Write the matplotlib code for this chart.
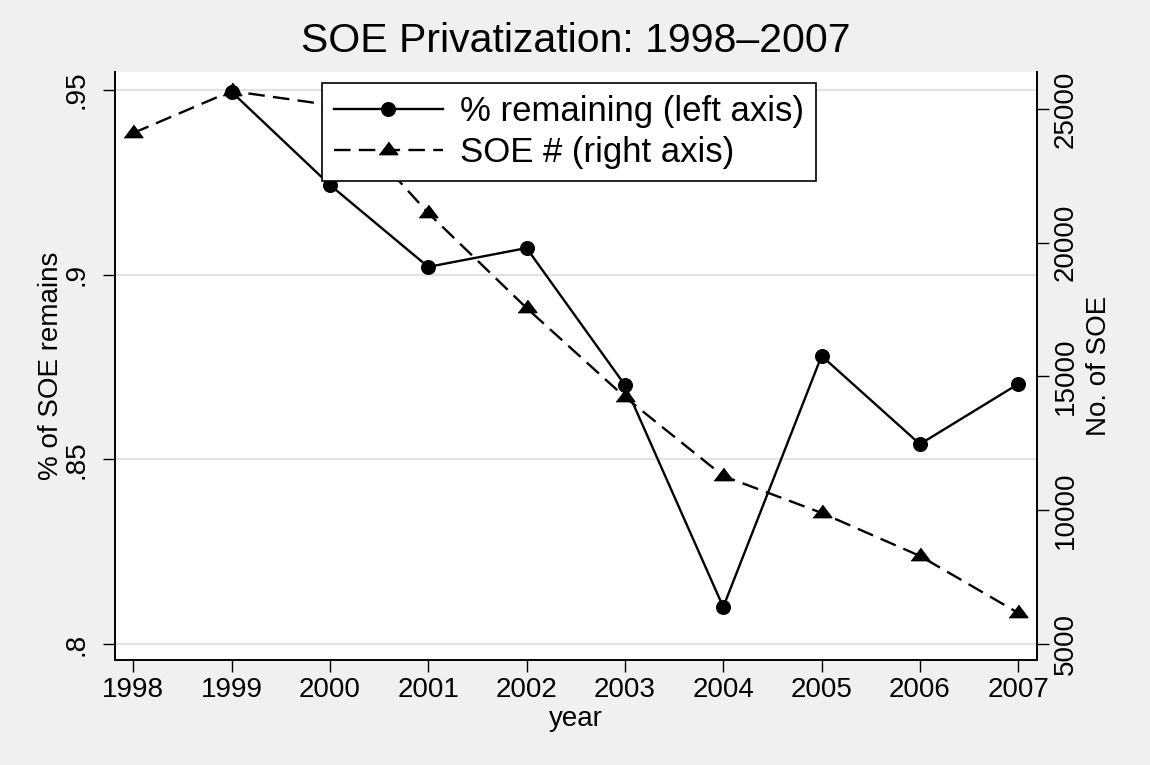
import matplotlib
matplotlib.use('Agg')
import matplotlib.pyplot as plt

# datos
years = [1998, 1999, 2000, 2001, 2002, 2003, 2004, 2005, 2006, 2007]
pct_remaining = [None, 0.9495, 0.9243, 0.9021, 0.9072, 0.8701, 0.8100, 0.8780, 0.8541, 0.8704]
soe_count = [24100, 25670, 25150, 21110, 17560, 14230, 11280, 9900, 8290, 6160]

left_ticks = [0.80, 0.85, 0.90, 0.95]
left_labels = ['.8', '.85', '.9', '.95']
right_ticks = [5000, 10000, 15000, 20000, 25000]

plt.rcParams['font.family'] = ['Liberation Sans', 'DejaVu Sans']

fig = plt.figure(figsize=(11.5, 7.65), dpi=100)
fig.patch.set_facecolor('#f0f0f0')

ax = fig.add_axes([0.1, 0.1373, 0.8017, 0.7686])
ax.set_facecolor('white')
ax2 = ax.twinx()

# serie con circulos (eje izquierdo)
yrs_pct = [y for y, v in zip(years, pct_remaining) if v is not None]
vals_pct = [v for v in pct_remaining if v is not None]
l1, = ax.plot(yrs_pct, vals_pct, color='black', lw=1.7, marker='o', ms=9.8,
              label='% remaining (left axis)')

# serie con triangulos (eje derecho)
tri = [(-1, -0.444), (1, -0.444), (0, 0.889)]
l2, = ax2.plot(years, soe_count, color='black', lw=1.7, ls=(0, (7, 3.5)),
               marker=tri, ms=13.5, label='SOE # (right axis)')

ax.set_xlim(1997.815, 2007.19)
ax.set_ylim(0.79567, 0.95487)
ax2.set_ylim(4402, 26383)

ax.set_xticks(years)
ax.set_yticks(left_ticks)
ax.set_yticklabels(left_labels)
ax2.set_yticks(right_ticks)

ax.yaxis.grid(True, color='#e2e2e2', lw=1.6)
ax.set_axisbelow(True)

for s in ['top', 'right']:
    ax.spines[s].set_visible(False)
for s in ['top', 'left', 'bottom']:
    ax2.spines[s].set_visible(False)
for sp in [ax.spines['left'], ax.spines['bottom'], ax2.spines['right']]:
    sp.set_linewidth(1.4)

ax.tick_params(axis='x', direction='out', length=8.5, width=1, labelsize=20, pad=4)
ax.tick_params(axis='y', direction='out', length=8.5, width=1, labelsize=20,
               labelrotation=90, pad=9.5)
ax2.tick_params(axis='y', direction='out', length=8.5, width=1, labelsize=20,
                labelrotation=90, pad=3)
for t in ax.get_yticklabels() + ax2.get_yticklabels():
    t.set_va('center')

ax.set_xlabel('year', fontsize=20, labelpad=2)
ax.set_ylabel('% of SOE remains', fontsize=20, labelpad=0)
ax2.set_ylabel('No. of SOE', fontsize=20, labelpad=5)

fig.text(0.501, 1 - 41 / 765, 'SOE Privatization: 1998\u20132007',
         fontsize=29.5, ha='center', va='center')

leg = ax2.legend(handles=[l1, l2], loc='upper left', bbox_to_anchor=(0.2245, 0.981),
                 borderaxespad=0, fontsize=25, frameon=True, fancybox=False,
                 edgecolor='black', framealpha=1, numpoints=1, handlelength=3.14,
                 handletextpad=0.49, borderpad=0.34, labelspacing=0.24)
leg.get_frame().set_linewidth(1.2)

fig.savefig('out.png', dpi=100, facecolor=fig.get_facecolor())
